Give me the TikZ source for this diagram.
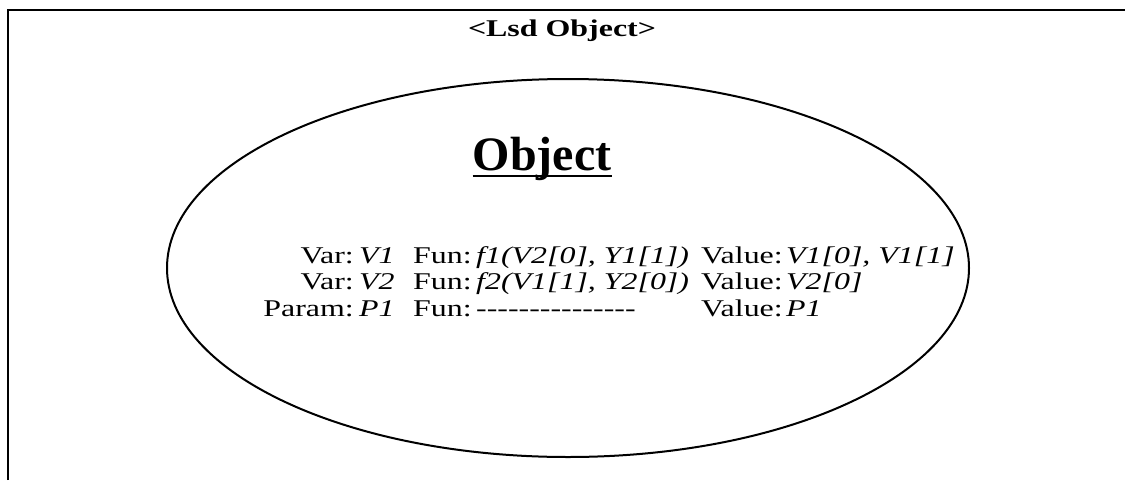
\documentclass[tikz,border=0pt]{standalone}
\usepackage{fontspec}
\setmainfont{Liberation Serif}
\newcommand\wide[1]{\scalebox{1.33}[1]{#1}}
\newcommand\hyphens[1]{\foreach\k in {1,...,#1}{\mbox{-}}}
\tikzset{
  cell/.style={inner sep=0pt, anchor=base west, font=\fontsize{24}{28}\selectfont},
  tag/.style={cell, anchor=base east},
}
\begin{document}
\begin{tikzpicture}[x=1pt,y=-1pt]
\useasboundingbox (0,0) rectangle (1125,480);
\pgfmathsetmacro{\cx}{568}
\pgfmathsetmacro{\cy}{268}
% frame, open to the right and bottom
\draw[line width=2.6pt] (8,480) -- (8,10) -- (1125,10);
\node[font=\bfseries\fontsize{24}{28}\selectfont, inner sep=0pt, anchor=base] (head) at (562,36) {\wide{<Lsd Object>}};
\draw[line width=2pt] (\cx,\cy) ellipse (401pt and 189pt);
\node[font=\bfseries\fontsize{48}{52}\selectfont, inner sep=0pt, anchor=base] (title) at (542,170) {Object};
\draw[line width=2.5pt] ([yshift=-6pt]title.base west) -- ([yshift=-6pt]title.base east);
% one row per variable or parameter
\foreach \lab/\nm/\fn/\val [count=\i] in {
  Var:/V1/{\itshape f1(V2[0], Y1[1])}/{V1[0], V1[1]},
  Var:/V2/{\itshape f2(V1[1], Y2[0])}/V2[0],
  Param:/P1/{\hyphens{15}}/P1}{
  \pgfmathsetmacro{\yy}{263+26.5*(\i-1)}
  \node[tag] (lab\i) at (354,\yy) {\wide{\lab}};
  \node[cell] (var\i) at (359,\yy) {\wide{\itshape\nm}};
  \node[cell] (fun\i) at (413,\yy) {\wide{Fun:}};
  \node[cell] (def\i) at (476,\yy) {\wide{\fn}};
  \node[cell] (key\i) at (701,\yy) {\wide{Value:}};
  \node[cell] (val\i) at (786,\yy) {\wide{\itshape\val}};
}
\end{tikzpicture}
\end{document}
